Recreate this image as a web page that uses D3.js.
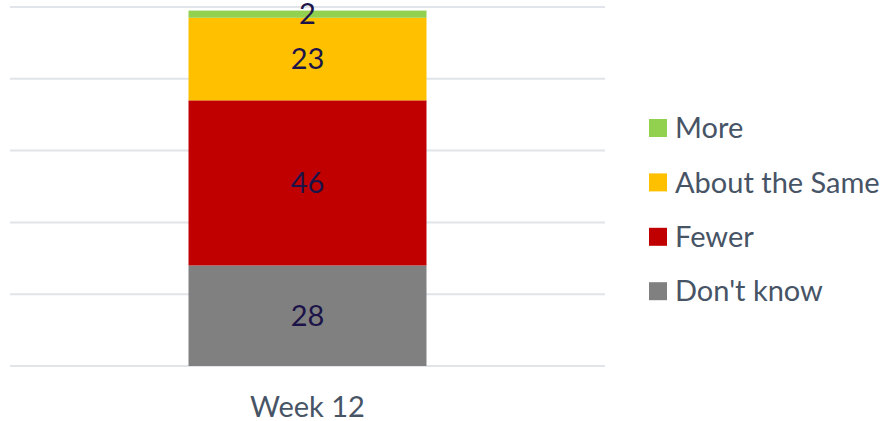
<!DOCTYPE html>
<html lang="en">
<head>
    <meta charset="UTF-8">
    <title>Week 12</title>
    <script src="https://d3js.org/d3.v7.min.js"></script>
    <style>
        body { margin: 0; background: #fff; }
        .grid line { stroke: #e1e4e8; stroke-width: 2; }
        .label { font: 29px Lato, sans-serif; fill: #1c1448; }
        .legend text, .x-label { font: 29px Lato, sans-serif; fill: #475466; }
    </style>
</head>
<body>
    <script>
        const categories = ["Week 12"]
        const seriesNames = ["Don't know", "Fewer", "About the Same", "More"]
        const seriesColors = ["#808080", "#c00000", "#ffc000", "#92d050"]
        const dontKnow = [28]
        const fewer = [46]
        const aboutSame = [23]
        const more = [2]
        const yTicks = [0, 20, 40, 60, 80, 100]

        const rows = categories.map((c, i) => ({
            cat: c,
            "Don't know": dontKnow[i],
            "Fewer": fewer[i],
            "About the Same": aboutSame[i],
            "More": more[i]
        }))

        const W = 884, H = 421
        const plot = {left: 10, right: 605, top: 7, bottom: 366}

        const svg = d3.select("body").append("svg")
            .attr("width", W)
            .attr("height", H)

        const x = d3.scaleBand()
            .domain(categories)
            .range([plot.left, plot.right])
            .paddingInner(0.4286)
            .paddingOuter(0.4286)

        const y = d3.scaleLinear()
            .domain([0, 100])
            .range([plot.bottom, plot.top])

        const color = d3.scaleOrdinal().domain(seriesNames).range(seriesColors)

        // gridlines
        svg.append("g")
            .attr("class", "grid")
            .selectAll("line")
            .data(yTicks)
            .enter().append("line")
            .attr("x1", plot.left)
            .attr("x2", plot.right)
            .attr("y1", d => y(d))
            .attr("y2", d => y(d))

        const stacked = d3.stack().keys(seriesNames)(rows)

        const layers = svg.append("g")
            .selectAll("g")
            .data(stacked)
            .enter().append("g")
            .attr("fill", d => color(d.key))

        layers.selectAll("rect")
            .data(d => d)
            .enter().append("rect")
            .attr("x", d => x(d.data.cat))
            .attr("y", d => y(d[1]))
            .attr("width", x.bandwidth())
            .attr("height", d => y(d[0]) - y(d[1]))

        layers.selectAll("text")
            .data(d => d)
            .enter().append("text")
            .attr("class", "label")
            .attr("x", d => x(d.data.cat) + x.bandwidth() / 2)
            .attr("y", d => (y(d[0]) + y(d[1])) / 2)
            .attr("dy", "0.35em")
            .attr("text-anchor", "middle")
            .text(d => d[1] - d[0])

        // category axis label
        svg.append("g")
            .selectAll("text")
            .data(categories)
            .enter().append("text")
            .attr("class", "x-label")
            .attr("x", d => x(d) + x.bandwidth() / 2)
            .attr("y", 407)
            .attr("dy", "0.35em")
            .attr("text-anchor", "middle")
            .text(d => d)

        // legend, top entry is the last series
        const legendItems = seriesNames.slice().reverse()
        const legend = svg.append("g")
            .attr("class", "legend")
            .selectAll("g")
            .data(legendItems)
            .enter().append("g")
            .attr("transform", (d, i) => "translate(649," + (128 + i * 54.4) + ")")

        legend.append("rect")
            .attr("x", 0)
            .attr("y", -9)
            .attr("width", 18)
            .attr("height", 18)
            .attr("fill", d => color(d))

        legend.append("text")
            .attr("x", 26)
            .attr("dy", "0.35em")
            .text(d => d)
    </script>
</body>
</html>
